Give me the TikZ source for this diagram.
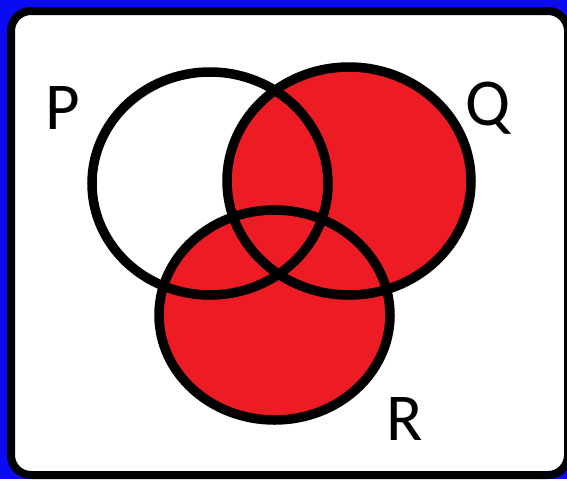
\documentclass[tikz,border=0pt]{standalone}
\usepackage{fontspec}
\setmainfont{Carlito}
\usetikzlibrary{shapes.geometric}
\definecolor{vred}{HTML}{ED1C24}
\definecolor{vblue}{HTML}{0A0AF5}
\begin{document}
\begin{tikzpicture}[x=1pt,y=-1pt,
  setring/.style={ellipse, draw=black, line width=9.5pt, inner sep=0pt, outer sep=0pt},
  lbl/.style={font=\fontsize{67}{67}\selectfont, inner sep=0pt, anchor=center}]
\fill[vblue] (0,0) rectangle (567,479);
\useasboundingbox (0,0) rectangle (567,479);
\draw[line width=8pt, fill=white, rounded corners=20pt] (11,11) rectangle (568,475);
% fills
\fill[vred] (349,181) ellipse [x radius=122pt, y radius=114pt];
\fill[vred] (274.5,315) ellipse [x radius=115.5pt, y radius=105pt];
% outlines
\node[setring, minimum width=236pt, minimum height=223pt] (P) at (210,183.5) {};
\node[setring, minimum width=244pt, minimum height=228pt] (Q) at (349,181) {};
\node[setring, minimum width=231pt, minimum height=210pt] (R) at (274.5,315) {};
% labels
\node[lbl] (Plbl) at (63,108) {P};
\node[lbl] (Qlbl) at (488,108) {Q};
\node[lbl] (Rlbl) at (405,419) {R};
\end{tikzpicture}
\end{document}
